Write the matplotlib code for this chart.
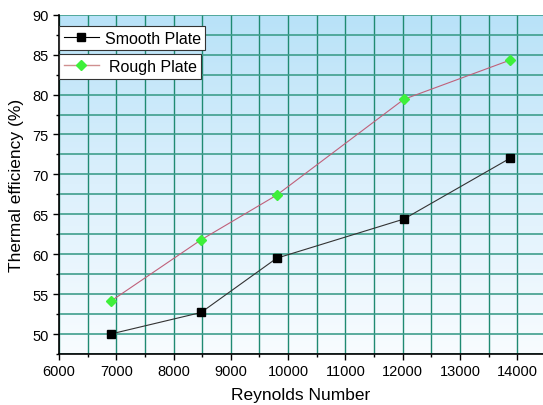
import numpy as np
import matplotlib
matplotlib.use("Agg")
import matplotlib.pyplot as plt
from matplotlib.ticker import MultipleLocator
from matplotlib.lines import Line2D
from matplotlib.colors import LinearSegmentedColormap

plt.rcParams['font.family'] = ['Liberation Sans', 'DejaVu Sans']

reynolds = [6900, 8480, 9800, 12020, 13870]
smooth = [50.0, 52.7, 59.5, 64.4, 72.0]
rough = [54.1, 61.8, 67.4, 79.4, 84.3]

fig = plt.figure(figsize=(5.43, 4.06), dpi=100)
ax = fig.add_axes([0.1087, 0.1256, 0.8913, 0.8357])

# gradient background
cmap = LinearSegmentedColormap.from_list('bg', ['#f8fcff', '#dcf0fc', '#b8e2f8'])
grad = np.linspace(0, 1, 256).reshape(-1, 1)
ax.imshow(grad, aspect='auto', cmap=cmap, origin='lower',
          extent=[0, 1, 0, 1], transform=ax.transAxes, zorder=0)

ax.set_xlim(6000, 14450)
ax.set_ylim(47.5, 90)
ax.xaxis.set_major_locator(MultipleLocator(1000))
ax.xaxis.set_minor_locator(MultipleLocator(500))
ax.yaxis.set_major_locator(MultipleLocator(5))
ax.yaxis.set_minor_locator(MultipleLocator(2.5))

ax.grid(True, which='both', axis='x', color='#1f8a72', linewidth=1.0, zorder=1)
ax.grid(True, which='both', axis='y', color='#3f9e8c', linewidth=1.2, zorder=1)
ax.set_axisbelow(True)

ax.plot(reynolds, smooth, color='#333333', linewidth=0.8, marker='s',
        markersize=6, markerfacecolor='black', markeredgecolor='black', zorder=3)
ax.plot(reynolds, rough, color='#c0607a', linewidth=0.8, marker='D',
        markersize=5.5, markerfacecolor='#3ef03a', markeredgecolor='#3ef03a', zorder=3)

for s in ['top', 'right']:
    ax.spines[s].set_visible(False)
for s in ['left', 'bottom']:
    ax.spines[s].set_linewidth(1.2)
    ax.spines[s].set_zorder(4)

ax.tick_params(which='major', direction='out', length=4, width=1, labelsize=10.5, colors='black')
ax.tick_params(which='minor', direction='out', length=2.5, width=1)

ax.set_xlabel('Reynolds Number', fontsize=12.5, labelpad=6)
ax.set_ylabel('Thermal efficiency (%)', fontsize=12.5, labelpad=6)

h1 = Line2D([], [], color='black', linewidth=0.8, marker='s', markersize=6,
            markerfacecolor='black', markeredgecolor='black')
h2 = Line2D([], [], color='#d09090', linewidth=1.0, marker='D', markersize=5.5,
            markerfacecolor='#3ef03a', markeredgecolor='#3ef03a')
leg1 = ax.legend([h1], ['Smooth Plate'], loc='upper left', bbox_to_anchor=(0.0, 0.967),
                 fancybox=False, framealpha=1, edgecolor='#333333', fontsize=11.5,
                 borderpad=0.3, handlelength=2.2, handletextpad=0.35, borderaxespad=0)
leg1.get_frame().set_linewidth(0.8)
ax.add_artist(leg1)
leg2 = ax.legend([h2], ['Rough Plate'], loc='upper left', bbox_to_anchor=(0.0, 0.884),
                 fancybox=False, framealpha=1, edgecolor='#333333', fontsize=11.5,
                 borderpad=0.3, handlelength=2.2, handletextpad=0.6, borderaxespad=0)
leg2.get_frame().set_linewidth(0.8)
leg1.set_zorder(5)
leg2.set_zorder(5)

fig.savefig('out.png', dpi=100)
